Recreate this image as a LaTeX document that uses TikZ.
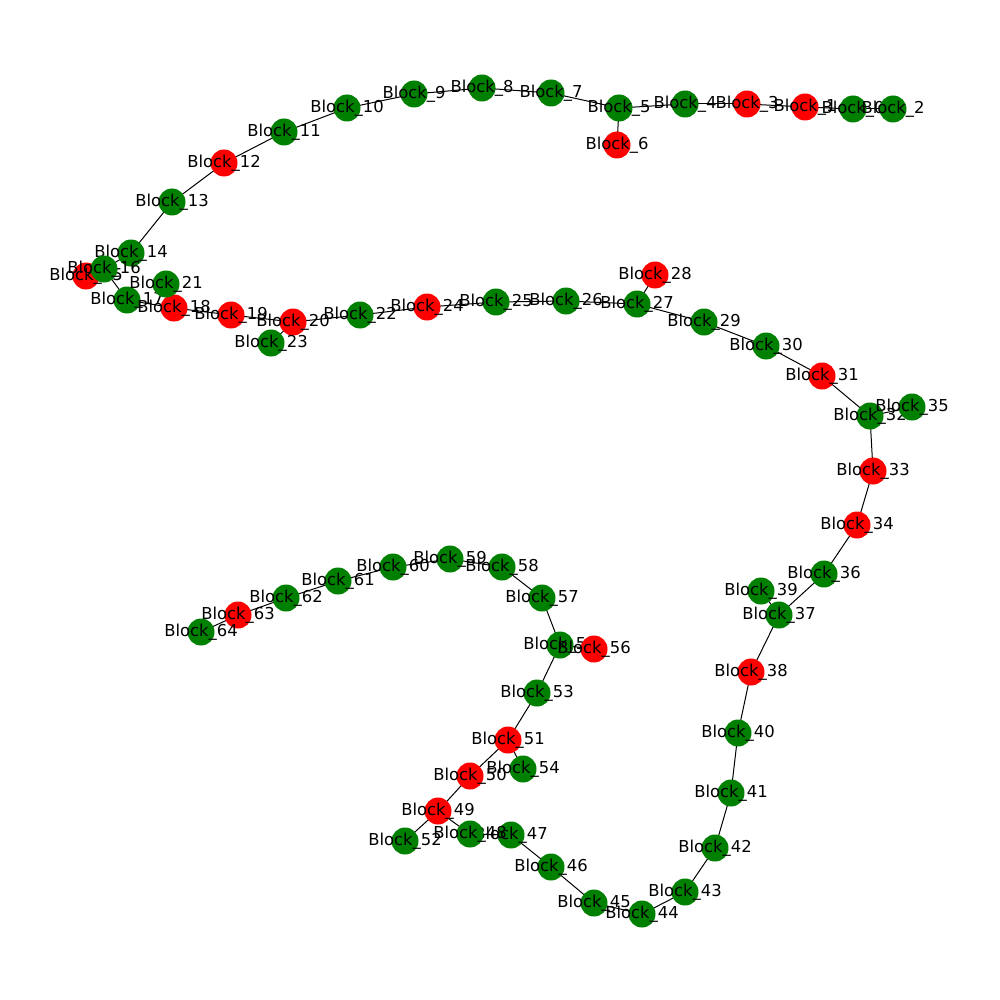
\documentclass[tikz,border=0pt]{standalone}
\usepackage{fontspec}
\setmainfont{DejaVu Sans}
\usepackage{tikz}
\usetikzlibrary{backgrounds}

\begin{document}
\begin{tikzpicture}[x=1pt, y=-1pt,
                    every label/.style={font=\fontsize{16.4}{19}\selectfont, inner sep=0pt},
                    blk/.style={circle, inner sep=0pt, minimum size=27pt},
                    g/.style={blk, fill={rgb,255:red,0;green,128;blue,0}},
                    r/.style={blk, fill=red},
                    every edge/.style={draw, line width=1pt}]
\useasboundingbox (0,0) rectangle (1000,1000);

\begin{scope}[shift={(0,2)}]
% blocks: number / x / y / colour
\foreach \i/\x/\y/\c in {0/853/107/g, 1/805/105/r, 2/893/107/g, 3/747/102/r,
    4/685/102/g, 5/619/106/g, 6/617/143/r, 7/551/91/g, 8/482/86/g, 9/414/92/g,
    10/347/106/g, 11/284/130/g, 12/224/161/r, 13/172/200/g, 14/131/251/g,
    15/86/274/r, 16/104/267/g, 17/127/298/g, 18/174/306/r, 19/231/313/r,
    20/293/320/r, 21/166/282/g, 22/360/313/g, 23/271/341/g, 24/427/305/r,
    25/496/300/g, 26/566/299/g, 27/637/302/g, 28/655/273/r, 29/704/320/g,
    30/766/344/g, 31/822/374/r, 32/870/414/g, 33/873/469/r, 34/857/523/r,
    35/912/405/g, 36/824/572/g, 37/779/613/g, 38/751/670/r, 39/761/589/g,
    40/738/731/g, 41/731/791/g, 42/715/846/g, 43/685/890/g, 44/642/912/g,
    45/594/901/g, 46/551/865/g, 47/511/833/g, 48/470/832/g, 49/438/809/r,
    50/470/774/r, 51/508/738/r, 52/405/839/g, 53/537/691/g, 54/523/767/g,
    55/560/643/g, 56/594/647/r, 57/542/596/g, 58/502/565/g, 59/450/557/g,
    60/393/565/g, 61/338/579/g, 62/286/596/g, 63/238/613/r, 64/201/630/g}
  \node[\c, label=center:Block\_\i] (b\i) at (\x,\y) {};
\end{scope}

\begin{scope}[on background layer]
\foreach \a/\b in {0/2, 0/1, 1/3, 3/4, 4/5, 5/6, 5/7, 7/8, 8/9, 9/10, 10/11,
    11/12, 12/13, 13/14, 14/16, 16/15, 16/17, 17/18, 18/21, 18/19, 19/20,
    20/23, 20/22, 22/24, 24/25, 25/26, 26/27, 27/28, 27/29, 29/30, 30/31,
    31/32, 32/35, 32/33, 33/34, 34/36, 36/37, 37/39, 37/38, 38/40, 40/41,
    41/42, 42/43, 43/44, 44/45, 45/46, 46/47, 47/48, 48/49, 49/52, 49/50,
    50/51, 51/54, 51/53, 53/55, 55/56, 55/57, 57/58, 58/59, 59/60, 60/61,
    61/62, 62/63, 63/64}
  \path (b\a.center) edge (b\b.center);
\end{scope}
\end{tikzpicture}
\end{document}
